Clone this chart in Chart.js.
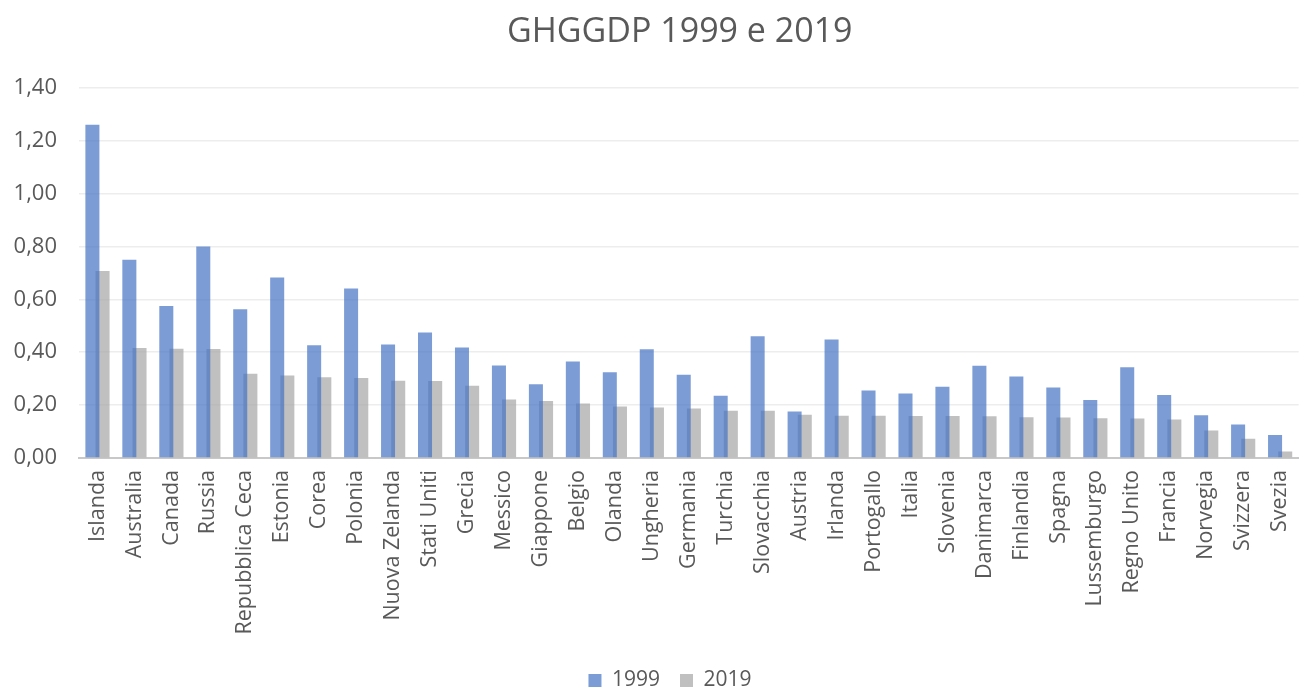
<!DOCTYPE html>
<html>
<head>
<meta charset="utf-8">
<script src="https://cdn.jsdelivr.net/npm/chart.js@4/dist/chart.umd.min.js"></script>
<style>
  html, body { margin: 0; padding: 0; background: #fff; }
  #wrap { width: 1310px; height: 688px; }
</style>
</head>
<body>
<div id="wrap"><canvas id="ghgChart"></canvas></div>
<script>
// GHG per unit of GDP, 1999 vs 2019
var paesi = [
  "Islanda", "Australia", "Canada", "Russia", "Repubblica Ceca", "Estonia", "Corea",
  "Polonia", "Nuova Zelanda", "Stati Uniti", "Grecia", "Messico", "Giappone", "Belgio",
  "Olanda", "Ungheria", "Germania", "Turchia", "Slovacchia", "Austria", "Irlanda",
  "Portogallo", "Italia", "Slovenia", "Danimarca", "Finlandia", "Spagna", "Lussemburgo",
  "Regno Unito", "Francia", "Norvegia", "Svizzera", "Svezia"
];
var valori1999 = [
  1.26, 0.75, 0.575, 0.80, 0.563, 0.683, 0.426,
  0.641, 0.429, 0.475, 0.418, 0.350, 0.279, 0.365,
  0.324, 0.411, 0.315, 0.235, 0.460, 0.176, 0.448,
  0.255, 0.244, 0.269, 0.349, 0.308, 0.267, 0.219,
  0.343, 0.238, 0.162, 0.127, 0.087
];
var valori2019 = [
  0.707, 0.416, 0.413, 0.412, 0.319, 0.312, 0.305,
  0.303, 0.292, 0.291, 0.273, 0.221, 0.216, 0.206,
  0.195, 0.191, 0.187, 0.179, 0.179, 0.164, 0.160,
  0.160, 0.159, 0.159, 0.158, 0.154, 0.153, 0.150,
  0.149, 0.146, 0.104, 0.073, 0.025
];
var tickValori = [0, 0.2, 0.4, 0.6, 0.8, 1.0, 1.2, 1.4];

var grigioTesto = "#595959";
var fontBase = "'Open Sans', 'DejaVu Sans', sans-serif";

// centre the title over the plot area and drop the legend closer to the bottom edge
var spostaBlocchi = {
  id: "spostaBlocchi",
  afterLayout: function (chart) {
    var t = chart.titleBlock;
    if (t) { t.left = chart.chartArea.left - 18; t.right = chart.chartArea.right; }
    var l = chart.legend;
    if (l) {
      l.top += 13; l.bottom += 13;
      l.left += 17; l.right += 17;
    }
  }
};

new Chart(document.getElementById("ghgChart"), {
  type: "bar",
  data: {
    labels: paesi,
    datasets: [
      {
        label: "1999",
        data: valori1999,
        backgroundColor: "rgba(68,114,196,0.70)",
        categoryPercentage: 0.55,
        barPercentage: 1.38
      },
      {
        label: "2019",
        data: valori2019,
        backgroundColor: "rgba(165,165,165,0.70)",
        categoryPercentage: 0.55,
        barPercentage: 1.38
      }
    ]
  },
  plugins: [spostaBlocchi],
  options: {
    responsive: true,
    maintainAspectRatio: false,
    animation: false,
    layout: { padding: { left: 0, right: 4, top: 0, bottom: 0 } },
    plugins: {
      title: {
        display: true,
        text: "GHGGDP 1999 e 2019",
        color: grigioTesto,
        font: { family: fontBase, size: 34, weight: "normal" },
        padding: { top: 12, bottom: 35 }
      },
      legend: {
        position: "bottom",
        labels: {
          color: grigioTesto,
          font: { family: fontBase, size: 21 },
          boxWidth: 13,
          boxHeight: 13,
          padding: 20
        }
      },
      tooltip: { enabled: true }
    },
    scales: {
      x: {
        grid: { display: false },
        border: { display: true, color: "#C8C8C8", width: 2 },
        ticks: {
          color: grigioTesto,
          font: { family: fontBase, size: 21.5 },
          maxRotation: 90,
          minRotation: 90,
          autoSkip: false,
          padding: 4
        },
        afterFit: function (s) { s.height = 179; }
      },
      y: {
        min: 0,
        max: 1.4,
        afterBuildTicks: function (s) {
          s.ticks = tickValori.map(function (v) { return { value: v }; });
        },
        grid: { color: "#EDEDED", lineWidth: 1.5, drawTicks: false },
        border: { display: false },
        ticks: {
          color: grigioTesto,
          font: { family: fontBase, size: 22 },
          padding: 22,
          callback: function (v) { return v.toFixed(2).replace(".", ","); }
        },
        afterFit: function (s) { s.width = 79; }
      }
    }
  }
});
</script>
</body>
</html>
